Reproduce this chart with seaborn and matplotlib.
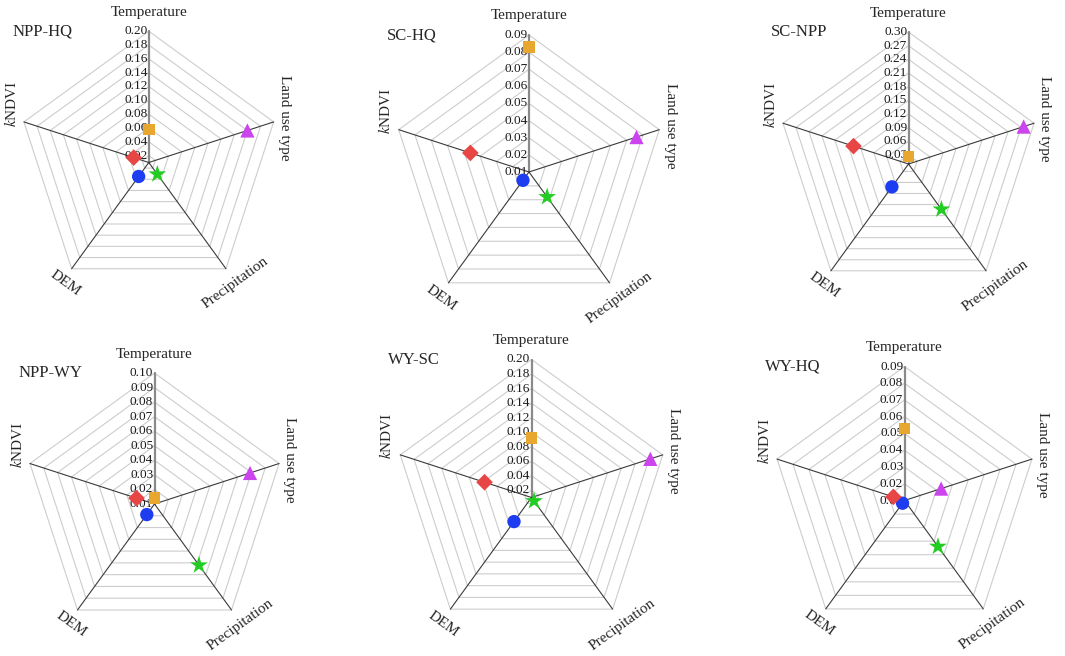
import numpy as np
import pandas as pd
import matplotlib
matplotlib.use("Agg")
import matplotlib.pyplot as plt
import seaborn as sns

sns.set_theme(style="white")
plt.rcParams['font.family'] = ['Liberation Serif', 'DejaVu Serif']
plt.rcParams['mathtext.fontset'] = 'stix'

# ---------------- data ----------------
factors = ["Temperature", "Land use type", "Precipitation", "DEM", "kNDVI"]
panels = ["NPP-HQ", "SC-HQ", "SC-NPP", "NPP-WY", "WY-SC", "WY-HQ"]

npp_hq = [0.058, 0.160, 0.031, 0.035, 0.033]
sc_hq = [0.083, 0.076, 0.028, 0.016, 0.046]
sc_npp = [0.026, 0.276, 0.133, 0.072, 0.137]
npp_wy = [0.014, 0.079, 0.062, 0.019, 0.023]
wy_sc = [0.092, 0.182, 0.016, 0.051, 0.078]
wy_hq = [0.053, 0.033, 0.044, 0.012, 0.017]
values = [npp_hq, sc_hq, sc_npp, npp_wy, wy_sc, wy_hq]

# axis scale (centre value, maximum, tick step)
r_min = [0.01, 0.01, 0.01, 0.01, 0.01, 0.01]
r_max = [0.20, 0.09, 0.30, 0.10, 0.20, 0.09]
r_step = [0.02, 0.01, 0.03, 0.01, 0.02, 0.01]
tick_first = [0.02, 0.01, 0.03, 0.01, 0.02, 0.01]

# ---------------- layout (pixels) ----------------
W, H = 1065, 656
centers = [(148.8, 162.5), (529.0, 172.0), (908.5, 164.0),
           (154.5, 504.0), (531.5, 497.5), (904.5, 500.5)]
radii = [131.3, 137.0, 132.0, 131.0, 138.0, 134.0]

marker_map = {"Temperature": "s", "Land use type": "^", "Precipitation": "*",
              "DEM": "o", "kNDVI": "D"}
color_map = {"Temperature": "#E8A830", "Land use type": "#CC44EE",
             "Precipitation": "#22CC22", "DEM": "#1E3CF0", "kNDVI": "#E84545"}
size_map = {"Temperature": 68, "Land use type": 105, "Precipitation": 180,
            "DEM": 92, "kNDVI": 72}

angles = np.deg2rad(90 - 72 * np.arange(5))  # clockwise from top

fig = plt.figure(figsize=(W / 100, H / 100), dpi=100)
L = 1.3

for i, name in enumerate(panels):
    cx, cy = centers[i]
    R = radii[i]
    ax = fig.add_axes([(cx - L * R) / W, (H - (cy + L * R)) / H,
                       2 * L * R / W, 2 * L * R / H])
    ax.set_xlim(-L, L)
    ax.set_ylim(-L, L)
    ax.set_aspect("equal")
    ax.axis("off")
    ax.patch.set_alpha(0)

    lo, hi, st = r_min[i], r_max[i], r_step[i]
    n_t = int(round((hi - tick_first[i]) / st)) + 1
    ticks = tick_first[i] + st * np.arange(n_t)
    ring_r = (ticks - lo) / (hi - lo)

    # pentagon rings
    for rr in ring_r:
        if rr <= 1e-6:
            continue
        px = np.append(rr * np.cos(angles), rr * np.cos(angles[0]))
        py = np.append(rr * np.sin(angles), rr * np.sin(angles[0]))
        ax.plot(px, py, color="#cdcdcd", lw=0.8, zorder=1)
    # spokes
    for k, a in enumerate(angles):
        if k == 0:
            ax.plot([0, np.cos(a)], [0, np.sin(a)], color="#8a8a8a", lw=1.6, zorder=2)
        else:
            ax.plot([0, np.cos(a)], [0, np.sin(a)], color="#3a3a3a", lw=0.8, zorder=2)

    # tick labels
    for t, rr in zip(ticks, ring_r):
        ax.text(-0.01, rr, f"{t:.2f}", ha="right", va="center", fontsize=9.5,
                color="#1a1a1a", zorder=3)

    # axis labels
    fs = 11
    ax.text(0, 1.14, "Temperature", ha="center", va="center", fontsize=fs)
    ax.text(np.cos(angles[1]) + 0.08, np.sin(angles[1]) + 0.03, "Land use type",
            ha="center", va="center", rotation=-90, fontsize=fs)
    ax.text(np.cos(angles[2]) + 0.07, np.sin(angles[2]) - 0.11, "Precipitation",
            ha="center", va="center", rotation=36, fontsize=fs)
    ax.text(np.cos(angles[3]) - 0.05, np.sin(angles[3]) - 0.11, "DEM",
            ha="center", va="center", rotation=-36, fontsize=fs)
    ax.text(np.cos(angles[4]) - 0.10, np.sin(angles[4]) + 0.14,
            r"$\mathit{k}$NDVI", ha="center", va="center", rotation=90, fontsize=fs)

    # title
    ax.text(-1.04, 1.0, name, ha="left", va="center", fontsize=12)

    # data markers
    v = np.array(values[i])
    r = (v - lo) / (hi - lo)
    df = pd.DataFrame({"factor": factors,
                       "x": r * np.cos(angles),
                       "y": r * np.sin(angles)})
    sns.scatterplot(data=df, x="x", y="y", hue="factor", style="factor",
                    size="factor", sizes=size_map, markers=marker_map,
                    palette=color_map, linewidth=0, legend=False, ax=ax,
                    zorder=5)

fig.savefig("out.png", dpi=100)
